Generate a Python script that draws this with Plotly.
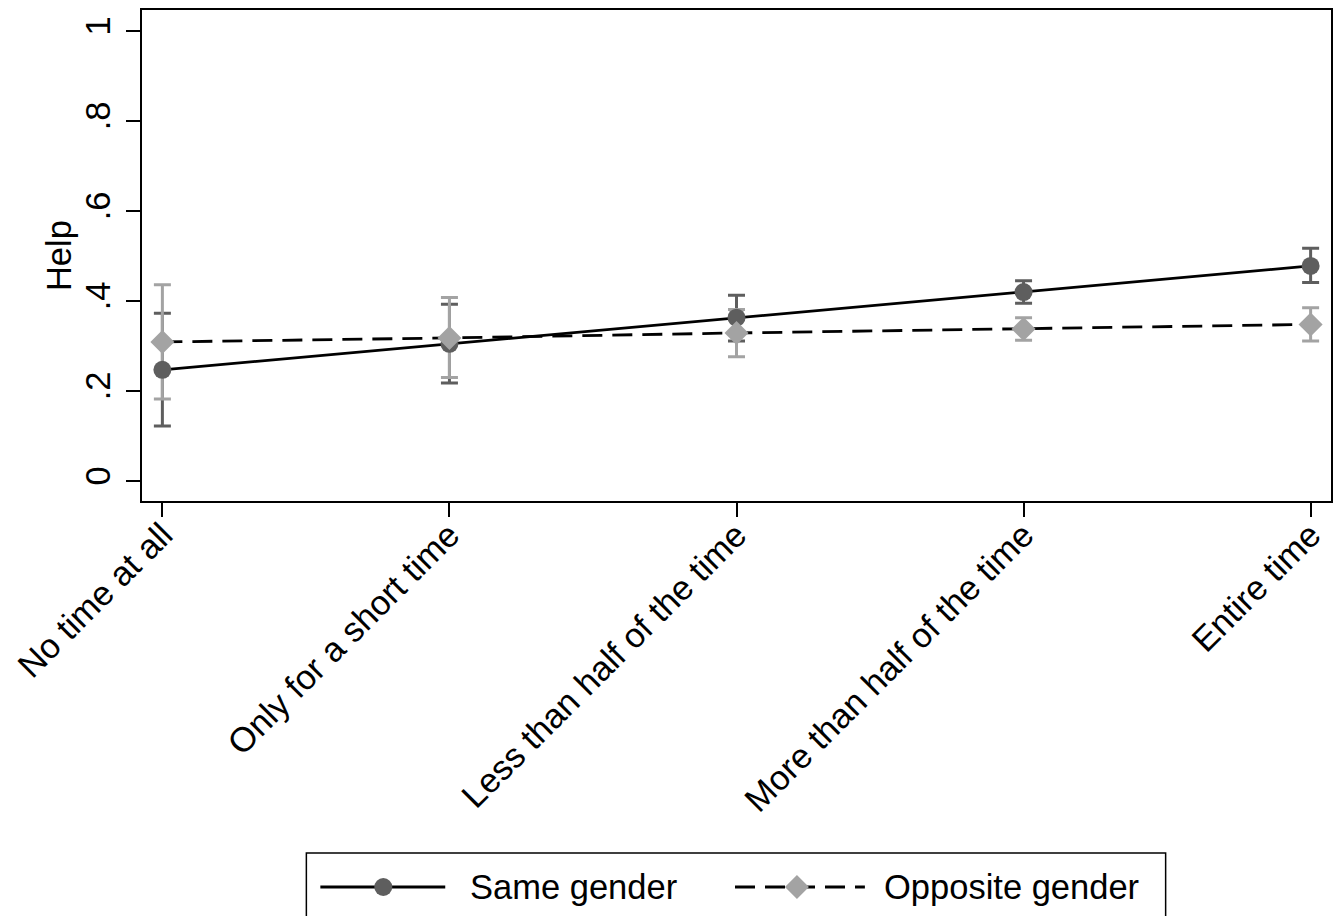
import plotly.graph_objects as go

# Categories (time spent) and estimated share helping, with 95% CIs
categories = ["No time at all", "Only for a short time", "Less than half of the time",
              "More than half of the time", "Entire time"]

same_est = [0.247, 0.305, 0.363, 0.420, 0.478]
same_lo = [0.122, 0.218, 0.311, 0.395, 0.441]
same_hi = [0.373, 0.393, 0.413, 0.445, 0.517]

opp_est = [0.309, 0.318, 0.329, 0.338, 0.348]
opp_lo = [0.182, 0.230, 0.276, 0.313, 0.311]
opp_hi = [0.436, 0.408, 0.381, 0.363, 0.385]

y_tickvals = [0, 0.2, 0.4, 0.6, 0.8, 1]
y_ticktext = ["0", ".2", ".4", ".6", ".8", "1"]

DARK = "#5e5e5e"
LIGHT = "#a3a3a3"
FONT = "Liberation Sans, Arial, Helvetica, sans-serif"
FS = 34.5
DASH = "20px,10px"

W, H = 1334, 916
L, R, T, B = 141.5, 2.5, 10, 415
PW, PH = W - L - R, H - T - B

x = list(range(len(categories)))


def err(est, lo, hi, color):
    return dict(type="data", symmetric=False,
                array=[h - e for e, h in zip(est, hi)],
                arrayminus=[e - l for e, l in zip(est, lo)],
                color=color, thickness=3, width=8.5)


fig = go.Figure()

# Confidence interval caps (drawn beneath the point estimates)
fig.add_trace(go.Scatter(x=x, y=same_est, mode="markers",
                         marker=dict(size=1, color="rgba(0,0,0,0)"),
                         error_y=err(same_est, same_lo, same_hi, DARK),
                         showlegend=False, hoverinfo="skip"))
fig.add_trace(go.Scatter(x=x, y=opp_est, mode="markers",
                         marker=dict(size=1, color="rgba(0,0,0,0)"),
                         error_y=err(opp_est, opp_lo, opp_hi, LIGHT),
                         showlegend=False, hoverinfo="skip"))

# Point estimates connected by lines
fig.add_trace(go.Scatter(x=x, y=same_est, mode="lines+markers", name="Same gender",
                         line=dict(color="black", width=2.8),
                         marker=dict(symbol="circle", size=18, color=DARK,
                                     line=dict(width=0)),
                         showlegend=False))
fig.add_trace(go.Scatter(x=x, y=opp_est, mode="lines+markers", name="Opposite gender",
                         line=dict(color="black", width=2.8, dash=DASH),
                         marker=dict(symbol="diamond", size=18.5, color=LIGHT,
                                     line=dict(width=0)),
                         showlegend=False))


def px_x(px):
    return (px - L) / PW


def px_y(py):
    return (H - B - py) / PH


# Legend box drawn below the plot
shapes = [
    dict(type="rect", xref="paper", yref="paper",
         x0=px_x(306), x1=px_x(1166), y0=px_y(925), y1=px_y(853),
         line=dict(color="black", width=1.5), fillcolor="white", layer="above"),
    dict(type="line", xref="paper", yref="paper",
         x0=px_x(320), x1=px_x(445), y0=px_y(887), y1=px_y(887),
         line=dict(color="black", width=2.8)),
    dict(type="circle", xref="paper", yref="paper", xsizemode="pixel", ysizemode="pixel",
         xanchor=px_x(383), yanchor=px_y(887), x0=-9, x1=9, y0=-9, y1=9,
         fillcolor=DARK, line=dict(width=0)),
    dict(type="line", xref="paper", yref="paper",
         x0=px_x(735), x1=px_x(865), y0=px_y(887), y1=px_y(887),
         line=dict(color="black", width=2.8, dash=DASH)),
    dict(type="path", xref="paper", yref="paper", xsizemode="pixel", ysizemode="pixel",
         xanchor=px_x(797), yanchor=px_y(887),
         path="M -12 0 L 0 12 L 12 0 L 0 -12 Z",
         fillcolor=LIGHT, line=dict(width=0)),
]

annotations = [
    dict(text="Same gender", xref="paper", yref="paper", x=px_x(468), y=px_y(887),
         xanchor="left", yanchor="middle", showarrow=False,
         font=dict(family=FONT, size=FS, color="black")),
    dict(text="Opposite gender", xref="paper", yref="paper", x=px_x(882), y=px_y(887),
         xanchor="left", yanchor="middle", showarrow=False,
         font=dict(family=FONT, size=FS, color="black")),
    # y-axis title
    dict(text="Help", xref="paper", yref="paper", x=px_x(58), y=0.5,
         xanchor="center", yanchor="middle", textangle=-90, showarrow=False,
         font=dict(family=FONT, size=FS, color="black")),
]

fig.update_layout(
    width=W, height=H,
    margin=dict(l=L, r=R, t=T, b=B, autoexpand=False),
    paper_bgcolor="white", plot_bgcolor="white",
    font=dict(family=FONT, size=FS, color="black"),
    shapes=shapes, annotations=annotations,
    showlegend=False,
)

fig.update_xaxes(
    range=[-0.071, 4.071], tickvals=x, ticktext=categories, tickangle=-45,
    showgrid=False, zeroline=False, showline=True, mirror=True,
    linecolor="black", linewidth=2, ticks="outside", ticklen=14, tickwidth=2,
    tickcolor="black", tickfont=dict(size=FS), ticklabelstandoff=-16,
    automargin=False,
)
fig.update_yaxes(
    range=[-0.0444, 1.0467], tickvals=y_tickvals, ticktext=y_ticktext, tickangle=-90,
    showgrid=False, zeroline=False, showline=True, mirror=True,
    linecolor="black", linewidth=2, ticks="outside", ticklen=14, tickwidth=2,
    tickcolor="black", tickfont=dict(size=FS), ticklabelstandoff=2,
    automargin=False,
)

fig.write_html("out.html")
